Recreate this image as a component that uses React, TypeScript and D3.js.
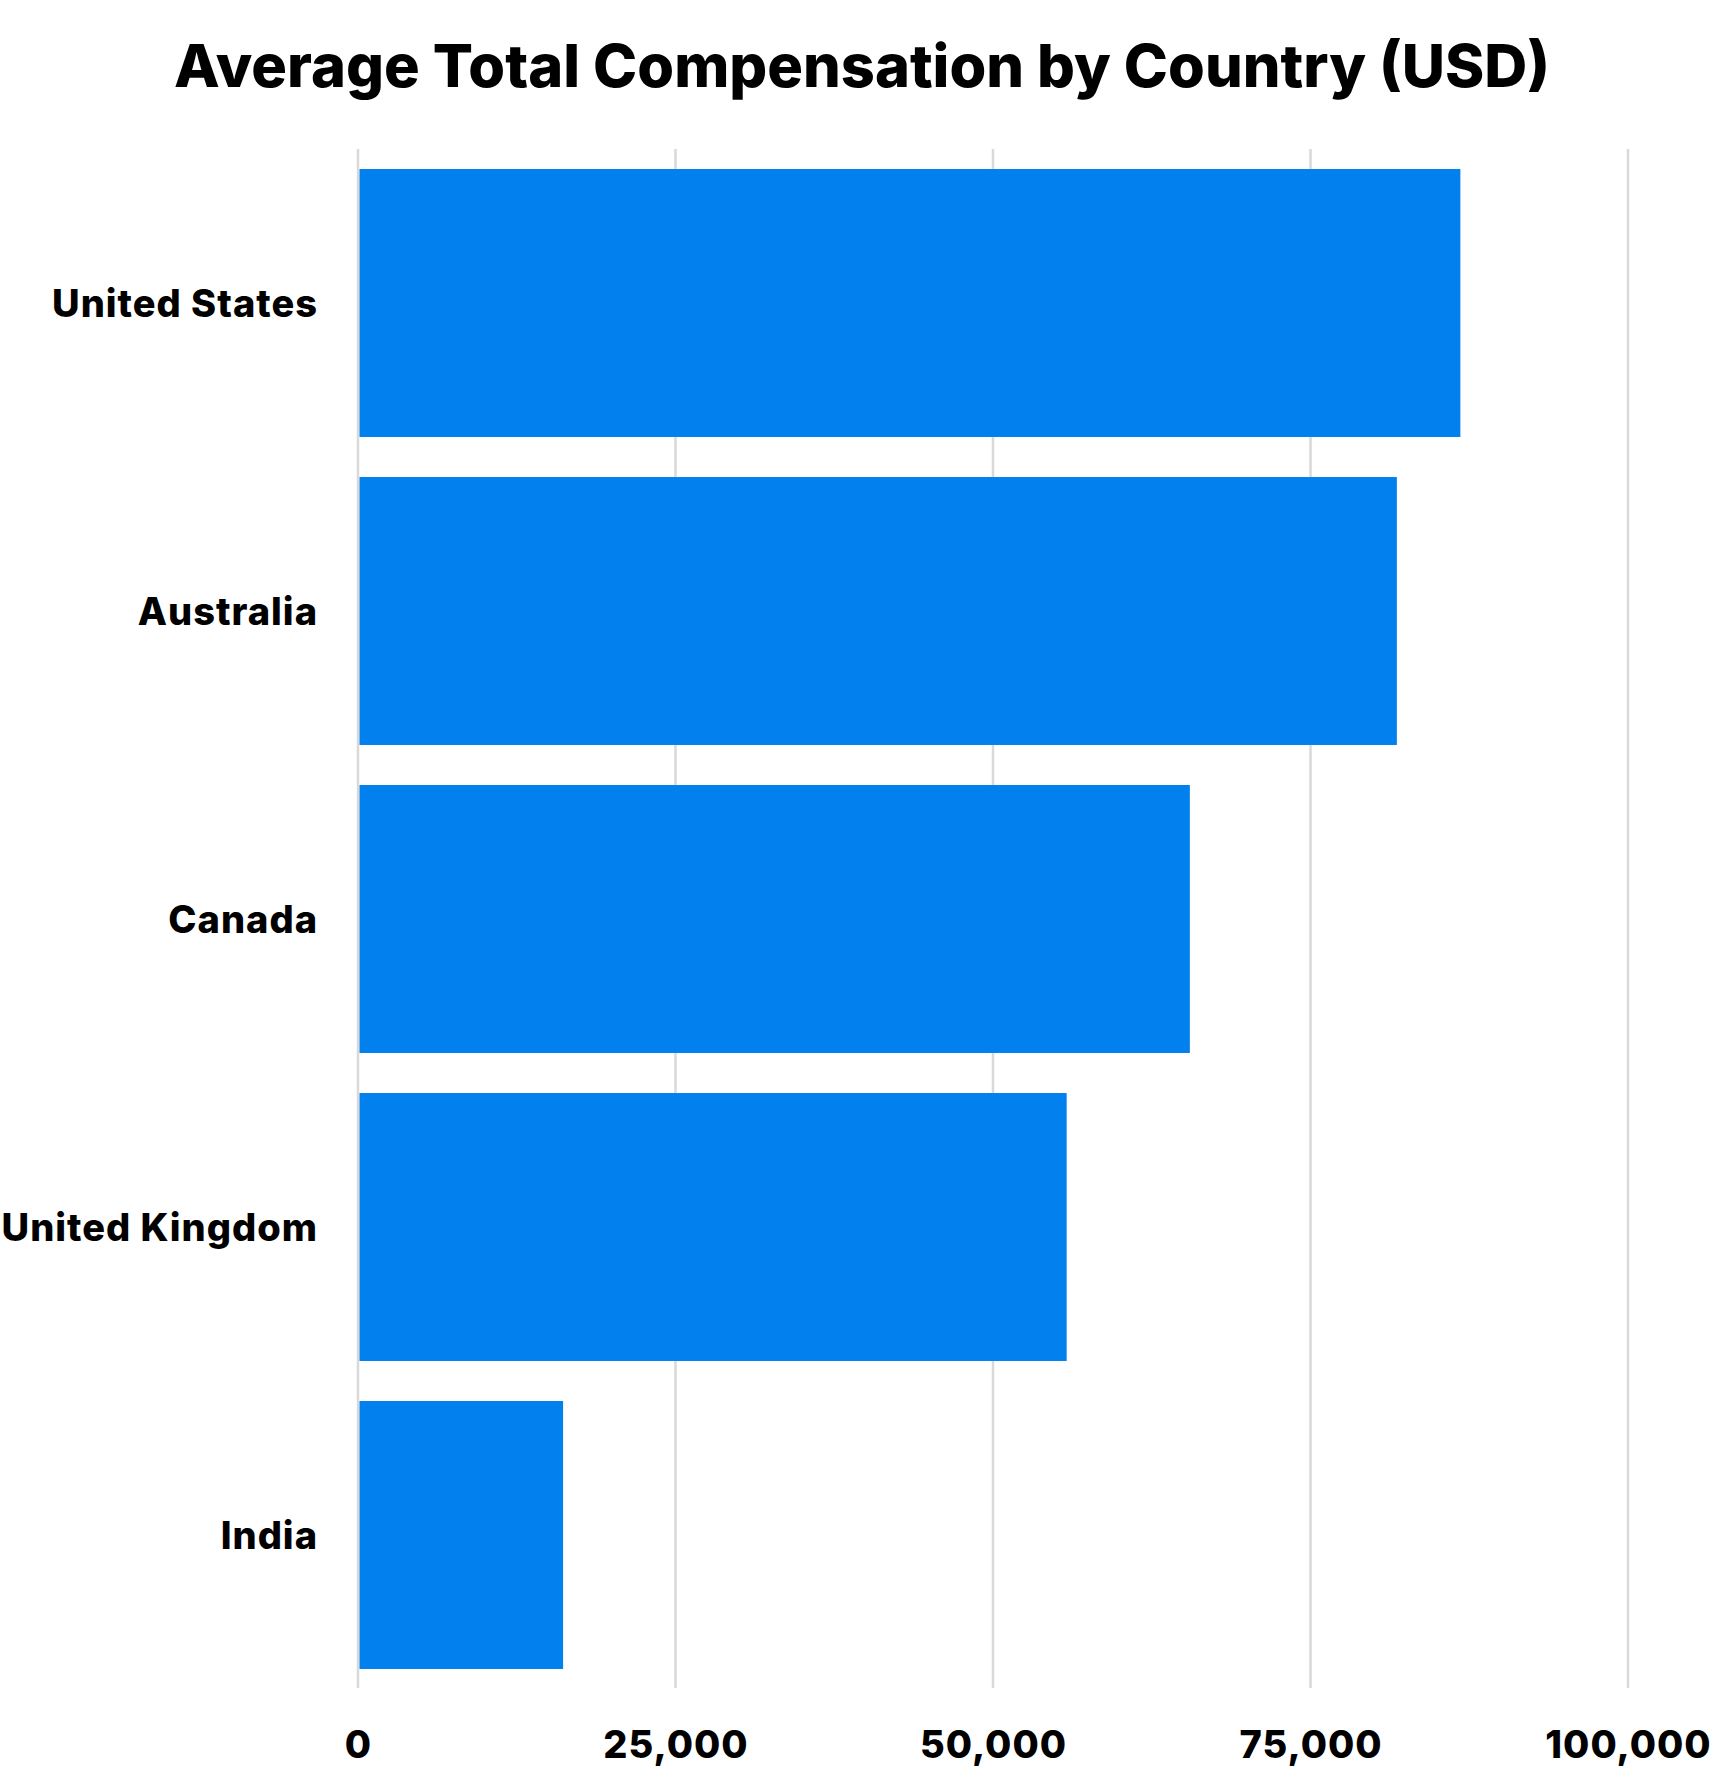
import React, { useEffect, useRef } from "react";
import * as d3 from "d3";

const countries = ["United States", "Australia", "Canada", "United Kingdom", "India"];
const compensation = [86800, 81800, 65500, 55800, 16150];
const tickValues = [0, 25000, 50000, 75000, 100000];

const chartTitle = "Average Total Compensation by Country (USD)";

export default function App() {
  const chartRef = useRef<SVGSVGElement>(null);

  useEffect(() => {
    document.body.style.margin = "0";
    if (!chartRef.current) return;

    const width = 1725;
    const height = 1787;
    const font = "'Inter', 'Lato', sans-serif";

    const svg = d3.select(chartRef.current);
    svg.selectAll("*").remove();

    const x = d3.scaleLinear().domain([0, 100000]).range([358, 1628]);
    const y = d3
      .scaleBand<string>()
      .domain(countries)
      .range([149, 1689])
      .paddingInner(0.13)
      .paddingOuter(0.065);

    svg
      .append("rect")
      .attr("width", width)
      .attr("height", height)
      .attr("fill", "#ffffff");

    // title
    svg
      .append("text")
      .attr("x", 862)
      .attr("y", 87)
      .attr("text-anchor", "middle")
      .attr("font-family", font)
      .attr("font-weight", 800)
      .attr("font-size", "59.5px")
      .attr("fill", "#000")
      .text(chartTitle);

    // vertical gridlines
    svg
      .append("g")
      .selectAll("line")
      .data(tickValues)
      .join("line")
      .attr("x1", (d) => x(d))
      .attr("x2", (d) => x(d))
      .attr("y1", 149)
      .attr("y2", 1688)
      .attr("stroke", "#d9d9d9")
      .attr("stroke-width", 2.5);

    // bars
    const data = countries.map((c, i) => ({ country: c, value: compensation[i] }));
    svg
      .append("g")
      .selectAll("rect")
      .data(data)
      .join("rect")
      .attr("x", x(0) + 1.5)
      .attr("y", (d) => y(d.country)!)
      .attr("width", (d) => x(d.value) - x(0) - 1.5)
      .attr("height", y.bandwidth())
      .attr("fill", "#0280ee");

    // category labels
    svg
      .append("g")
      .selectAll("text")
      .data(countries)
      .join("text")
      .attr("x", 318)
      .attr("y", (d) => y(d)! + y.bandwidth() / 2 + 14)
      .attr("text-anchor", "end")
      .attr("font-family", font)
      .attr("font-weight", 800)
      .attr("font-size", "38px")
      .attr("letter-spacing", "1px")
      .attr("fill", "#000")
      .text((d) => d);

    // x tick labels
    const format = d3.format(",d");
    svg
      .append("g")
      .selectAll("text")
      .data(tickValues)
      .join("text")
      .attr("x", (d) => x(d) + 0.5)
      .attr("y", 1758)
      .attr("text-anchor", "middle")
      .attr("font-family", font)
      .attr("font-weight", 800)
      .attr("font-size", "38px")
      .attr("letter-spacing", "1px")
      .attr("fill", "#000")
      .text((d) => format(d));
  }, []);

  return <svg ref={chartRef} width={1725} height={1787} style={{ display: "block" }} />;
}
